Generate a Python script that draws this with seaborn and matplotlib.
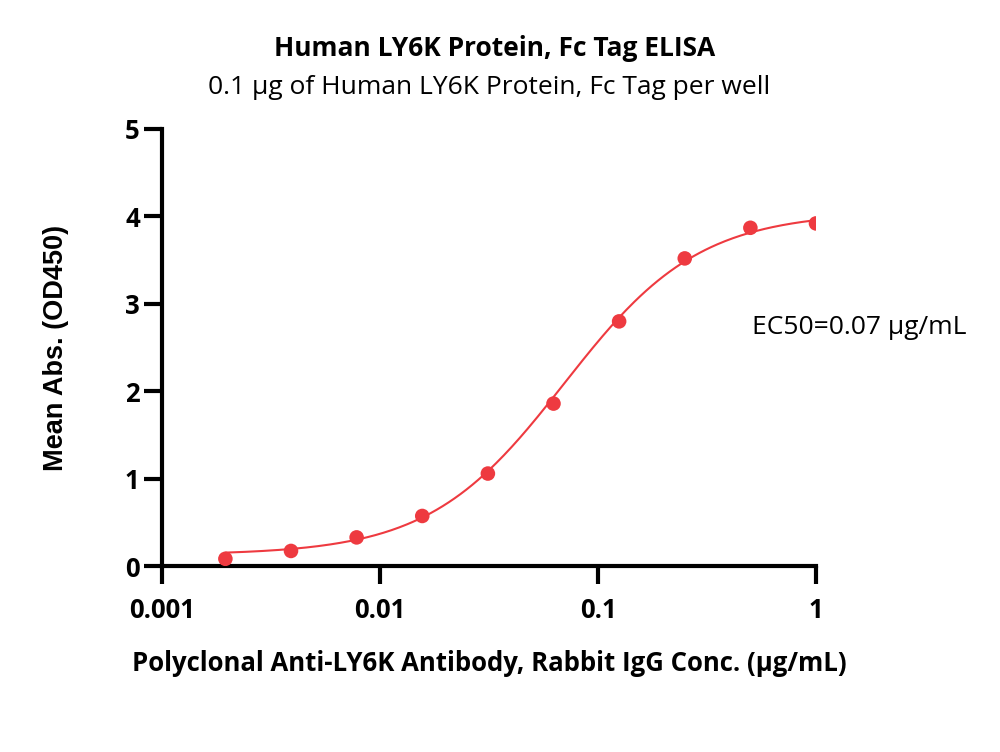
import numpy as np
import pandas as pd
import matplotlib
matplotlib.use('Agg')
import matplotlib.pyplot as plt
import seaborn as sns
from matplotlib.ticker import FixedLocator, NullLocator

# data
conc = [1.0, 0.5, 0.25, 0.125, 0.0625, 0.03125, 0.015625, 0.0078125, 0.00390625, 0.001953125]
od450 = [3.92, 3.87, 3.52, 2.80, 1.86, 1.06, 0.575, 0.33, 0.175, 0.085]

# 4PL fit parameters (estimated from the drawn curve)
fit_bottom = 0.13
fit_top = 4.05
fit_ec50 = 0.07
fit_hill = 1.4

x_ticks = [0.001, 0.01, 0.1, 1]
x_ticklabels = ['0.001', '0.01', '0.1', '1']
y_ticks = [0, 1, 2, 3, 4, 5]

red = '#EE3A40'

df = pd.DataFrame({'conc': conc, 'od': od450})
xs = np.logspace(np.log10(min(conc)), np.log10(max(conc)), 300)
df_fit = pd.DataFrame({'conc': xs,
                       'od': fit_bottom + (fit_top - fit_bottom) / (1 + (fit_ec50 / xs) ** fit_hill)})

sns.set_style('ticks')
plt.rcParams['font.family'] = ['Open Sans', 'DejaVu Sans']
plt.rcParams['text.color'] = 'black'
plt.rcParams['axes.labelcolor'] = 'black'
plt.rcParams['xtick.color'] = 'black'
plt.rcParams['ytick.color'] = 'black'

fig = plt.figure(figsize=(10, 7.52), dpi=100)
ax = fig.add_axes([0.162, 0.247, 0.654, 0.5815])

sns.lineplot(data=df_fit, x='conc', y='od', color=red, linewidth=1.5, ax=ax)
sns.scatterplot(data=df, x='conc', y='od', color=red, s=110, edgecolor='none', ax=ax, zorder=3)

ax.set_xscale('log')
ax.set_xlim(0.001, 1)
ax.set_ylim(0, 5)
ax.xaxis.set_major_locator(FixedLocator(x_ticks))
ax.xaxis.set_minor_locator(NullLocator())
ax.set_xticklabels(x_ticklabels)
ax.set_yticks(y_ticks)

for s in ['top', 'right']:
    ax.spines[s].set_visible(False)
for s in ['left', 'bottom']:
    ax.spines[s].set_linewidth(3)
    ax.spines[s].set_color('black')
ax.tick_params(axis='both', width=3, length=13, color='black', labelcolor='black', direction='out')
ax.tick_params(axis='y', pad=3)
ax.tick_params(axis='x', pad=9)
for lab in ax.get_xticklabels() + ax.get_yticklabels():
    lab.set_fontweight('bold')
    lab.set_fontsize(18.5)

ax.set_xlabel('Polyclonal Anti-LY6K Antibody, Rabbit IgG Conc. (μg/mL)',
              fontsize=18.5, fontweight='bold', labelpad=19, color='black')
ax.set_ylabel('Mean Abs. (OD450)', fontsize=19.5, fontweight='bold',
              family=['Liberation Sans', 'DejaVu Sans'], labelpad=40, color='black')

fig.text(0.495, 0.936, 'Human LY6K Protein, Fc Tag ELISA', ha='center', va='center',
         fontsize=19, fontweight='bold', color='black')
fig.text(0.489, 0.884, '0.1 μg of Human LY6K Protein, Fc Tag per well', ha='center',
         va='center', fontsize=19, color='black')
fig.text(0.752, 0.564, 'EC50=0.07 μg/mL', ha='left', va='center', fontsize=19, color='black')

fig.savefig('out.png', dpi=100)
